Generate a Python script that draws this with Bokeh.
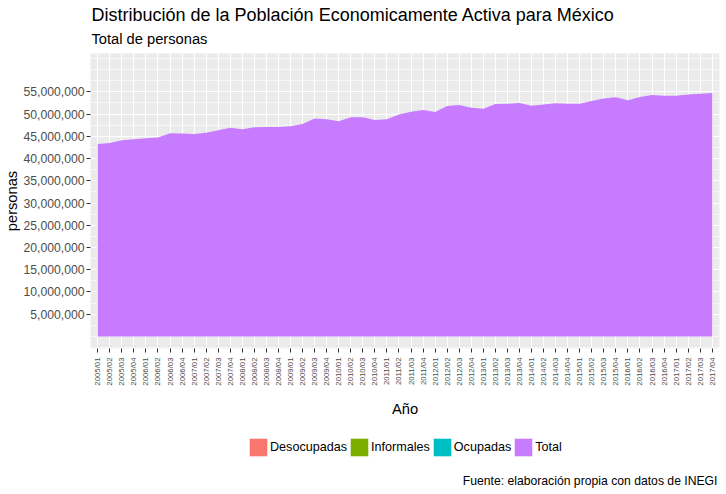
import math
from bokeh.plotting import figure
from bokeh.layouts import column
from bokeh.models import (ColumnDataSource, Range1d, FixedTicker, Title, Legend,
                          LegendItem, NumeralTickFormatter, Label)
from bokeh.embed import file_html
from bokeh.resources import INLINE

periodos = [
    "2005/01", "2005/02", "2005/03", "2005/04",
    "2006/01", "2006/02", "2006/03", "2006/04",
    "2007/01", "2007/02", "2007/03", "2007/04",
    "2008/01", "2008/02", "2008/03", "2008/04",
    "2009/01", "2009/02", "2009/03", "2009/04",
    "2010/01", "2010/02", "2010/03", "2010/04",
    "2011/01", "2011/02", "2011/03", "2011/04",
    "2012/01", "2012/02", "2012/03", "2012/04",
    "2013/01", "2013/02", "2013/03", "2013/04",
    "2014/01", "2014/02", "2014/03", "2014/04",
    "2015/01", "2015/02", "2015/03", "2015/04",
    "2016/01", "2016/02", "2016/03", "2016/04",
    "2017/01", "2017/02", "2017/03", "2017/04",
]

total = [
    43280000, 43500000, 44100000, 44300000,
    44550000, 44700000, 45700000, 45600000,
    45500000, 45800000, 46350000, 46900000,
    46600000, 47000000, 47100000, 47100000,
    47250000, 47750000, 49000000, 48800000,
    48400000, 49250000, 49250000, 48650000,
    48800000, 49900000, 50500000, 50900000,
    50450000, 51800000, 52000000, 51400000,
    51200000, 52250000, 52300000, 52450000,
    51850000, 52150000, 52400000, 52300000,
    52300000, 52900000, 53500000, 53750000,
    53100000, 53800000, 54250000, 54100000,
    54100000, 54400000, 54550000, 54750000,
]

series = ["Desocupadas", "Informales", "Ocupadas", "Total"]
colores = ["#F8766D", "#7CAE00", "#00BFC4", "#C77CFF"]

y_ticks = [5000000, 10000000, 15000000, 20000000, 25000000, 30000000,
           35000000, 40000000, 45000000, 50000000, 55000000]
y_minor = [-2500000, 0, 2500000, 7500000, 12500000, 17500000, 22500000,
           27500000, 32500000, 37500000, 42500000, 47500000, 52500000,
           57500000, 60000000, 62500000]

FONT = "Liberation Sans"
W = 726
H_MAIN = 424
H_LEG = 70

idx = list(range(len(periodos)))
src = ColumnDataSource(data=dict(x=idx, periodo=periodos, total=total))

# ---------------- main chart ----------------
p = figure(width=W, height=H_MAIN, output_backend="svg", toolbar_location=None,
           title=None,
           x_range=Range1d(-0.6, len(periodos) - 1 + 0.6),
           y_range=Range1d(-2700000, 63600000),
           min_border_left=0, min_border_right=7, min_border_top=53,
           min_border_bottom=76)

p.background_fill_color = "#EBEBEB"
p.border_fill_color = "white"
p.outline_line_color = None

p.varea(x="x", y1=0, y2="total", source=src, fill_color=colores[3])

xa = p.xaxis[0]
xa.ticker = FixedTicker(ticks=idx)
xa.major_label_overrides = {i: lab for i, lab in zip(idx, periodos)}
xa.major_label_orientation = math.pi / 2
xa.major_label_text_font = FONT
xa.major_label_text_font_size = "7.8px"
xa.major_label_text_color = "#4D4D4D"
xa.major_label_standoff = 5
xa.major_tick_out = 4
xa.major_tick_in = 0
xa.major_tick_line_color = "#333333"
xa.minor_tick_line_color = None
xa.axis_line_color = None
xa.axis_label = "Año"
xa.axis_label_text_font = FONT
xa.axis_label_text_font_size = "14.7px"
xa.axis_label_text_font_style = "normal"
xa.axis_label_text_color = "black"
xa.axis_label_standoff = 12

ya = p.yaxis[0]
ya.ticker = FixedTicker(ticks=y_ticks, minor_ticks=y_minor)
ya.formatter = NumeralTickFormatter(format="0,0")
ya.major_label_text_font = FONT
ya.major_label_text_font_size = "12.2px"
ya.major_label_text_color = "#4D4D4D"
ya.major_label_standoff = 2
ya.major_tick_out = 4
ya.major_tick_in = 0
ya.major_tick_line_color = "#333333"
ya.minor_tick_line_color = None
ya.axis_line_color = None
ya.axis_label = "personas"
ya.axis_label_text_font = FONT
ya.axis_label_text_font_size = "14.7px"
ya.axis_label_text_font_style = "normal"
ya.axis_label_text_color = "black"
ya.axis_label_standoff = 1

p.xgrid.grid_line_color = "white"
p.xgrid.grid_line_width = 1
p.ygrid.grid_line_color = "white"
p.ygrid.grid_line_width = 1
p.ygrid.minor_grid_line_color = "white"
p.ygrid.minor_grid_line_width = 0.6

subtitle = Title(text="Total de personas", align="left", text_font=FONT,
                 text_font_size="14.7px", text_font_style="normal", text_color="black",
                 standoff=13, offset=1)
p.add_layout(subtitle, "above")
maintitle = Title(text="Distribución de la Población Economicamente Activa para México",
                  align="left", text_font=FONT, text_font_size="18px",
                  text_font_style="normal", text_color="black", standoff=-4, offset=1)
p.add_layout(maintitle, "above")

# ---------------- legend + caption strip ----------------
# frame of this strip is aligned with the chart panel; data units = page pixels
q = figure(width=W, height=H_LEG, output_backend="svg", toolbar_location=None,
           title=None, x_range=Range1d(93, 719), y_range=Range1d(H_MAIN + H_LEG, H_MAIN),
           x_axis_location=None, y_axis_location=None,
           min_border=0, min_border_left=0, min_border_right=0,
           min_border_top=0, min_border_bottom=0)
q.outline_line_color = None
q.background_fill_color = "white"
q.border_fill_color = "white"
q.xgrid.visible = False
q.ygrid.visible = False

# legend keys (the three other series lie hidden beneath Total in the panel)
rends = [q.varea(x=[0], y1=[0], y2=[0], fill_color=c) for c in colores]
legend = Legend(items=[LegendItem(label=s, renderers=[r]) for s, r in zip(series, rends)],
                orientation="horizontal", location=(157, H_MAIN + H_LEG - 458),
                glyph_width=22, glyph_height=22, label_height=22,
                label_standoff=1, spacing=1, padding=0, margin=0,
                label_text_font=FONT, label_text_font_size="12.6px",
                label_text_color="black",
                border_line_color=None, background_fill_alpha=0)
q.add_layout(legend, "center")

caption = Label(x=717, y=480,
                text="Fuente: elaboración propia con datos de INEGI",
                text_align="right", text_baseline="middle",
                text_font=FONT, text_font_size="12.2px", text_color="black")
q.add_layout(caption)

layout = column(p, q, spacing=0)
open("out.html", "w").write(file_html(layout, INLINE))
